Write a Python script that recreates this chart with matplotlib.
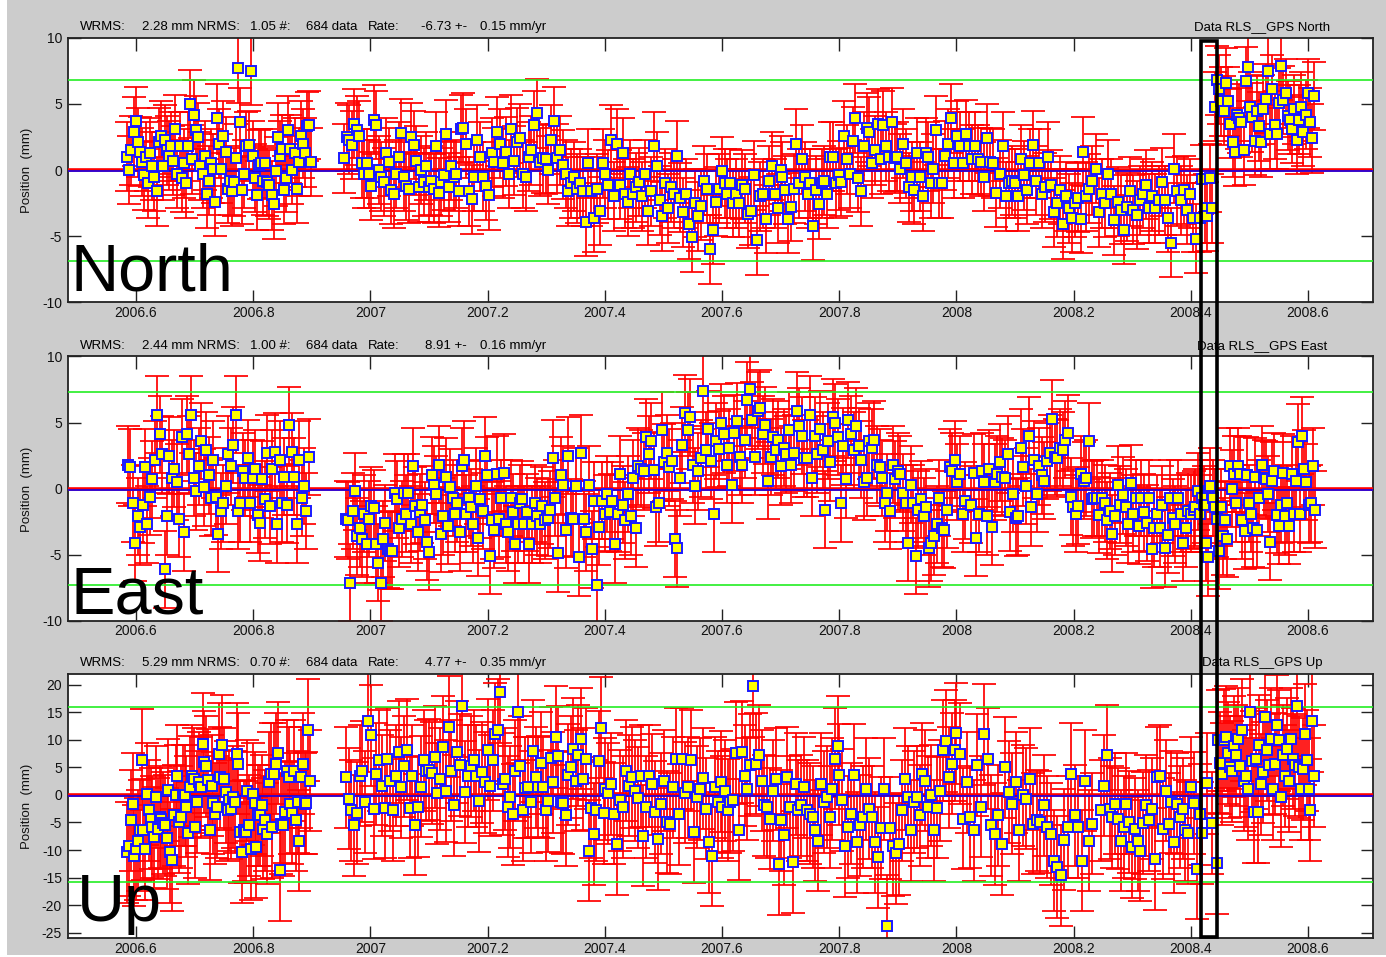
import numpy as np
import matplotlib
matplotlib.use("Agg")
import matplotlib.pyplot as plt
from matplotlib.patches import Rectangle

W, H, DPI = 1386, 957, 100
plt.rcParams['font.family'] = ['Liberation Sans', 'DejaVu Sans']

# ---------------- summary statistics per component ----------------
components = ['North', 'East', 'Up']
wrms = [2.28, 2.44, 5.29]
nrms = [1.05, 1.00, 0.70]
ndata = [684, 684, 684]
rate = [-6.73, 8.91, 4.77]
rate_err = [0.15, 0.16, 0.35]
sigma = [2.6, 2.9, 9.2]          # typical 1-sigma error bar (mm)
ylims = [(-10, 10), (-10, 10), (-26, 22)]
yticks = [[-10, -5, 0, 5, 10], [-10, -5, 0, 5, 10],
          [-25, -20, -15, -10, -5, 0, 5, 10, 15, 20]]
xticks = [2006.6, 2006.8, 2007.0, 2007.2, 2007.4, 2007.6, 2007.8,
          2008.0, 2008.2, 2008.4, 2008.6]
xtick_labels = ['2006.6', '2006.8', '2007', '2007.2', '2007.4', '2007.6',
                '2007.8', '2008', '2008.2', '2008.4', '2008.6']
xlim = (2006.483, 2008.711)

# ---------------- North residuals (mm), daily solutions by time span ----------------
north_spans = [(2006.585, 2006.899), (2006.955, 2007.155), (2007.158, 2007.440),
               (2007.443, 2007.700), (2007.703, 2007.957), (2007.960, 2008.213),
               (2008.216, 2008.415), (2008.420, 2008.437), (2008.441, 2008.611)]
north_a = [1.0, 0.0, 1.5, 2.9, 3.7, 2.1, 1.4, 0.6, -0.4, 1.0, -1.0, 1.3, 0.3, -0.5, -1.6,
           2.1, 2.6, 0.3, 2.3, 1.5, 1.1, 1.8, 0.7, 3.1, -0.3, 1.8, -0.6, 0.5, -1.0, 1.8,
           5.0, 0.8, 4.2, 3.0, 2.5, 0.3, -0.3, 1.1, -1.8, -0.8, 0.5, 0.1, -2.4, 3.9, 2.0,
           0.1, 2.6, 1.4, -1.4, -0.8, -1.6, -0.9, 0.9, 7.7, 3.6, -1.5, -0.3, 1.8, 1.9, 7.5,
           1.1, -0.6, -1.9, 0.4, 0.5, -0.8, 0.5, -0.9, -1.1, -1.9, -2.6, -0.1, 2.5, 1.1,
           1.6, -1.5, -0.6, 3.0, 1.6, 0.0, 1.3, -1.4, 0.6, 2.6, 2.0, 1.3, 3.3, 3.4, 0.6]
north_b1 = [0.9, 2.5, 2.3, 1.9, 3.5, 3.0, 2.6, 0.5, -0.3, 0.5, -0.3, -1.2, 3.8, 3.4, 0.0,
            -0.5, -0.9, 1.3, 0.6, -1.5, -1.8, -0.3, 1.0, 2.8, -0.5, -1.2, -1.4, 2.5, 1.9,
            0.7, -1.3, 0.0, -0.9, 0.3, -1.3, -0.8, -1.4, 1.8, -1.7, -0.9, -0.4, 2.7, -1.3,
            0.3, -0.5, -0.3, -1.6, 3.1]
north_b2 = [3.2, 2.0, -1.6, -2.2, -0.5, 2.3, 1.0, -0.5, -1.2, -1.9, 1.3, 0.6, 2.9, 2.0,
            0.5, 1.4, -0.3, 3.1, 0.7, 2.1, 2.4, -0.3, -0.5, 1.0, 1.5, 3.4, 4.3, 0.6, 0.9,
            0.8, 0.0, 2.3, 3.7, 0.9, 1.5, 0.4, -0.3, -1.6, -1.0, -0.5, -1.4, -1.0, -1.6,
            -3.9, 0.5, -1.6, -3.6, -1.4, -3.1, 0.5, -0.3, -1.1, 2.3, -2.0, 2.0, -1.1, 1.3,
            -1.8, -2.4]
north_b3 = [-0.3, -1.8, -1.3, -0.9, -2.0, -0.3, -3.1, -1.6, 1.8, 0.3, -2.3, -3.5, -1.0,
            -2.9, -1.3, -1.8, 1.1, -2.1, -3.2, -1.8, -4.1, -5.1, -2.5, -3.5, -2.7, -0.8,
            -1.4, -6.0, -4.5, -2.4, -1.4, -0.1, -1.0, -1.8, -1.0, -2.5, -1.8, -2.5, -1.1,
            -1.4, -3.3, -3.1, -0.4, -5.3, -2.0, -1.8, -3.7, -0.8, 0.3, -1.8, -2.9, 0.0]
north_b4 = [-0.5, -1.5, -3.7, -2.8, -1.4, 2.0, -1.0, 0.8, -0.5, -1.8, -1.0, -4.2, -1.5,
            -2.6, -1.0, -0.8, -1.8, 1.0, 1.0, -1.0, -0.4, -0.9, 2.6, 0.8, -0.3, 2.2, 3.9,
            -0.6, -1.6, 1.8, 3.2, 2.9, 0.5, 1.5, 3.5, 0.8, 3.4, 1.8, 1.0, 3.6, 0.9, 1.0,
            0.1, 2.0, 0.5, -1.3, -0.5, -1.5, 1.3, -0.5, -2.0, 1.3, 1.0, -1.0]
north_b5 = [0.1, 3.0, -1.0, -1.0, 1.1, 2.0, 3.9, 0.5, 2.6, 1.8, 0.5, 2.7, 1.8, 0.8, 1.8,
            0.8, 0.6, -0.5, 2.4, 0.6, 0.5, -1.7, -0.3, 1.8, -2.0, -1.0, -0.8, -1.0, -2.0,
            0.8, -0.4, -1.5, 0.5, 1.9, -0.8, 0.5, -1.8, -1.3, 1.0, -1.1, -3.2, -2.5, -1.5,
            -4.1, -2.0, -2.9, -3.6, -2.5, -2.1, -3.7]
north_b6 = [1.4, -2.0, -1.4, -0.8, 0.1, -3.2, -1.8, -2.5, -0.3, -1.8, -3.8, -2.4, -3.0,
            -4.5, -2.8, -1.6, -3.0, -3.4, -2.3, -1.8, -1.1, -2.9, -2.0, -2.9, -2.3, -0.9,
            -2.3, -3.6, -5.5, 0.1, -1.6, -2.3, -1.5, -3.0, -1.8, -3.6, -5.2, -3.6]
north_b7 = [-0.7, -2.9, -3.5, -0.6, -2.9]
north_b8 = [4.8, 6.8, 6.1, 5.2, 4.5, 6.6, 5.2, 3.5, 2.1, 1.4, 4.2, 3.9, 3.6, 1.5, 6.7, 7.8,
            4.8, 4.0, 2.2, 4.5, 3.3, 2.1, 4.6, 5.4, 7.5, 2.7, 6.1, 3.4, 2.7, 5.1, 7.9, 5.3,
            5.8, 4.1, 3.8, 3.1, 4.6, 2.3, 3.8, 4.8, 2.9, 4.2, 5.8, 3.6, 2.4, 5.6]
north_series = [north_a, north_b1, north_b2, north_b3, north_b4, north_b5,
                north_b6, north_b7, north_b8]

# ---------------- East residuals (mm) ----------------
east_spans = [(2006.586, 2006.895), (2006.958, 2007.255), (2007.258, 2008.015),
              (2008.025, 2008.405), (2008.408, 2008.612)]
east_a = [1.8, 1.6, -1.1, -4.1, -2.1, -2.9, -1.2, 1.6, -2.7, -0.6, 0.7, 2.2, 5.6, 4.1, 2.6,
          -6.1, -2.1, 2.5, 0.8, 1.5, 0.5, -2.3, 3.9, -3.3, 4.1, 2.6, 5.6, 0.8, -0.2, 1.7,
          3.6, 0.1, 2.9, 1.0, -0.7, 2.2, -0.6, -3.4, -1.7, -1.1, 0.2, 2.6, 1.7, 3.3, 5.6,
          -1.7, -1.1, 1.3, 0.8, 2.3, -1.1, 0.8, 1.5, -2.0, -2.6, 0.7, -0.8, 2.7, -1.3, 1.5,
          2.8, -2.7, 2.2, -1.1, 0.9, -1.2, 4.8, 2.8, 0.9, -2.7, 2.2, -0.7, 0.2, -1.7, 2.4]
east_b1 = [-2.3, -2.4, -7.1, -1.7, -0.2, -3.6, -3.0, -3.8, -1.9, -4.2, -2.3, -1.3, -1.5,
           -4.2, -5.6, -7.1, -3.8, -2.6, -4.6, -4.7, -4.7, -0.3, -0.8, -3.0, -2.3, -0.3,
           -1.9, -0.3, -2.7, 1.7, -1.3, -3.3, -1.8, -1.2, -2.4, -4.0, -4.8, 1.0, 0.3, -0.4,
           1.8, -3.4, -2.1, 0.9, -2.8, 0.1, -0.7, -1.9, -1.1, -3.3, 1.7, 2.2, -1.9, -0.7,
           -1.4, -2.7, 0.2, -3.7, -0.8, -1.7, 2.5, 1.0, -5.1, -2.4, -3.1, 1.1, -2.3, -0.7,
           1.2, -2.7, -3.3, -0.7, -1.8, -4.2, -2.7, -1.1]
east_b2 = [-0.8, -2.7, -1.8, -4.2, -2.7, -1.1, -2.1, -2.7, -1.3, -2.4, -2.2, -1.6, 2.3,
           -0.7, -4.9, 1.0, 0.3, -3.1, 2.5, -2.2, -2.3, 0.2, -5.2, 2.7, -2.3, -3.3, 0.3,
           -4.6, -0.9, -7.3, -2.9, -0.9, -1.9, -0.4, -1.8, -0.9, -4.2, -1.9, 1.1, -1.2,
           -2.4, -0.4, -2.1, 0.8, -3.0, 1.7, 1.5, 1.3, 3.9, 2.6, 3.6, 1.4, -1.4, -1.1, 4.4,
           2.0, 2.7, 1.6, 2.1, -3.8, -4.5, 0.8, 3.3, 5.7, 4.4, 5.4, 1.8, 0.2, 1.3, 2.3, 7.4,
           2.9, 4.5, 2.1, -1.9, 3.6, 3.0, 5.0, 4.1, 1.8, 3.1, 0.3, 4.2, 5.1, 2.4, 1.8, 3.7,
           6.7, 7.5, 5.2, 2.4, 5.9, 6.1, 4.1, 4.8, 0.6, 2.4, 3.9, 2.9, 3.7, 1.7, 3.1, 2.6,
           4.4, 1.8, 2.7, 5.9, 4.7, 4.0, 2.3, 2.3, 5.6, 0.8, 4.0, 2.6, 4.5, 2.9, -1.6, 3.6,
           2.0, 5.4, 5.0, 3.9, -1.1, 3.2, 0.7, 5.2, 4.1, 2.9, 4.7, 3.2, 2.2, 0.5, 0.8, 3.6,
           3.1, 3.7, 1.8, 1.6, 0.8, -1.1, -0.3, -1.7, 1.8, 0.7, 1.3, 1.1, -0.3, -1.1, -4.1,
           0.3, -1.1, -5.1, -1.6, -0.8, -2.1, -1.4, -4.5, -4.1, -3.6, -2.7, -0.7, -3.0, -3.1,
           -1.6, 1.6, 1.3, 2.2, 0.5, 1.1, -1.9, -0.9]
east_b3 = [-1.2, 1.2, -3.7, -1.9, 1.3, 0.5, -2.1, 1.5, -2.9, 0.5, 1.1, 2.0, 0.9, 0.8, 2.6,
           -1.8, -0.4, -2.2, -2.1, 3.1, 1.6, 0.2, 4.0, -1.4, 2.2, -0.4, 1.7, 1.0, 0.6, 2.1,
           2.7, 5.3, 2.4, 2.3, 3.1, 2.9, 3.7, 4.2, -0.6, -1.4, -1.9, -1.3, 1.1, 0.6, 0.8,
           3.6, -0.8, -0.7, -0.7, -2.0, -0.7, -1.1, -2.4, -1.7, -3.4, -2.1, 0.3, -1.2, -0.5,
           -1.4, -2.7, 0.4, -1.9, -0.7, -2.8, -0.7, -1.8, -2.6, -0.7, -4.6, -3.0, -1.9, -3.0,
           -1.2, -4.5, -3.5, -0.7, -2.2, -2.7, -0.7, -1.9, -4.1, -3.0, -1.7, -1.9, -1.6]
east_b4 = [-1.4, -0.2, -1.9, -0.7, -1.2, -4.1, -5.2, 0.2, -0.7, -1.4, -2.3, -4.7, -1.4,
           -3.6, -2.4, -3.8, 1.7, 0.0, 1.1, -1.1, 1.7, 1.1, -2.4, -3.2, 1.0, -1.1, -1.9,
           -3.0, 0.9, -3.1, -0.7, 1.8, 0.8, 0.7, -0.4, -4.0, 0.6, 1.3, -2.0, -2.8, -1.2,
           1.2, -2.1, -1.1, -2.8, 1.1, -1.9, 0.6, 3.5, -1.9, 4.0, 1.5, 0.5, -1.2, -1.1, 1.7,
           -1.6]
east_series = [east_a, east_b1, east_b2, east_b3, east_b4]

# ---------------- Up residuals (mm) ----------------
up_spans = [(2006.585, 2006.897), (2006.958, 2007.195), (2007.200, 2007.398),
            (2007.400, 2007.598), (2007.600, 2007.798), (2007.800, 2007.998),
            (2008.000, 2008.232), (2008.247, 2008.415), (2008.420, 2008.444),
            (2008.447, 2008.611)]
up_a = [-10.4, -9.2, -4.6, -1.6, -11.0, -9.8, -8.3, -6.4, 6.4, -6.3, -9.9, 0.2, -2.8, -4.3,
        -5.8, -7.7, -0.4, -6.1, -4.0, -4.3, -5.1, -5.5, -7.9, 0.9, -10.4, -11.8, -3.7, -0.1,
        3.5, -4.9, -4.0, -0.1, -0.1, -2.1, -6.9, 1.5, 3.5, 2.9, -5.8, -1.3, 2.3, 1.4, 9.3,
        6.0, 5.2, 2.8, -6.3, 1.7, -1.5, -3.4, -2.2, 7.5, 3.2, 9.0, 2.9, 0.5, -2.8, -1.0,
        -2.5, -0.4, -1.3, 7.5, 5.7, -6.7, -10.4, -6.4, -6.7, 0.8, -5.5, -9.8, 0.2, -1.5,
        -9.5, -3.7, -3.7, -1.9, -6.1, -4.6, -7.0, 2.3, 3.8, -5.8, 3.8, 5.7, 7.6, -13.7,
        -5.2, -5.5, -3.1, 4.4, 3.2, -1.6, -3.3, 4.4, -4.6, -1.3, -8.3, 3.2, 5.7, -1.6,
        -1.5, 11.8, 2.6]
up_b1 = [3.2, -0.7, -2.8, -5.5, -3.3, 3.5, 4.3, -1.3, 13.4, 10.8, -2.5, 3.8, 6.3, 1.7,
         -2.3, 6.6, 2.6, -2.7, 3.5, 7.8, 1.4, 5.2, 8.2, -2.3, 3.5, -5.4, -2.1, 1.5, 6.3,
         4.4, 4.6, 4.0, 6.9, 0.3, 2.9, 8.7, 0.7, 12.4, 4.4, -1.9, 7.8, 5.4, 16.1, 0.5, 3.4,
         5.2, 6.3, 3.4, -1.1, 4.1, 2.3]
up_b2 = [8.2, 1.7, 6.3, 11.1, 11.8, 18.7, 2.0, 2.9, -2.1, -0.4, -3.5, 4.4, 15.0, 5.2,
         -2.8, 1.3, 1.4, -1.3, 8.0, 3.2, 1.5, 5.8, 1.4, -2.8, -1.1, 6.7, 2.3, 10.5, 7.0,
         -1.3, -1.5, -3.7, 3.7, 5.1, 8.4, 2.6, 7.2, 10.2, 2.9, 6.6, -10.1, -2.3, -7.1,
         -2.8, 6.1, 12.2, -3.3]
up_b3 = [1.1, 0.3, 2.0, -3.4, -8.9, -1.0, -2.2, 4.4, 1.7, 3.2, 0.8, -0.5, 3.4, -7.4,
         -2.2, 3.4, 1.9, -3.1, -8.0, -1.6, 2.6, -4.9, -5.2, 1.4, 6.6, -3.5, 6.6, 0.4, 1.4,
         6.3, -6.7, -0.4, 1.1, 3.0, -2.5, -8.6, -11.0, 1.4, -1.2, 2.4]
up_b4 = [-2.2, 0.8, -2.7, -1.3, -0.9, 7.6, -6.3, 7.8, 3.5, 1.1, 5.4, 19.7, 5.7, 7.2, 2.6,
         -1.9, -2.2, -4.3, 0.8, 2.9, -12.6, -4.6, -7.2, 3.2, -2.2, -12.2, 2.0, -2.8, -1.9,
         1.4, -2.8, -3.4, -4.0, -6.4, -8.3, 2.0, -1.3, -0.4, -4.0, 1.1, 6.6, 8.8]
up_b5 = [3.7, -0.9, -9.3, -5.8, -3.4, 3.7, -8.6, -5.5, -4.0, 1.1, -2.5, -4.0, -8.6, -11.3,
         -6.0, 1.1, -23.7, -6.0, -9.2, -10.6, -8.9, -2.8, 2.9, -0.4, -6.4, -1.3, -0.4, -3.7,
         3.8, 2.6, -2.2, -0.1, -6.4, -2.3, 0.8, 8.1, 9.8, 3.2, 5.7, 8.1]
up_b6 = [11.2, 7.5, -4.3, 2.3, -4.0, -6.4, 5.4, -2.1, 11.0, 6.6, -5.5, -7.1, -3.7, -8.9,
         5.0, 0.5, -1.6, 2.3, -6.4, -0.1, -0.7, 2.9, -5.2, -4.6, -4.9, -1.9, -5.8, -7.1,
         -11.9, -13.1, -14.6, -8.1, -5.8, 3.8, -3.7, -5.8, -11.9, 2.6, -8.3, -5.2]
up_b7 = [-2.8, 1.7, 7.2, -2.5, -4.0, -1.6, -4.3, -8.3, -5.8, -1.6, -4.9, -9.5, -6.1, -8.3,
         -10.1, -5.1, -1.9, -4.6, -2.5, -11.6, 3.2, 3.5, -6.1, 0.8, -5.2, -1.3, -8.6, -1.6,
         -4.0, -2.5, -6.4, -6.9, 1.4, -1.5, -13.4, -3.5]
up_b8 = [-6.9, 2.1, -5.1, -12.4]
up_b9 = [9.9, 5.8, 3.8, 10.0, 10.5, 7.6, 5.1, 4.3, 8.8, 7.2, 10.2, 5.2, 11.8, 2.6, 3.4, 1.1,
         15.0, 6.1, -3.1, 6.6, -3.1, 9.0, 1.9, 4.1, 14.2, 8.1, 5.5, 10.2, 1.1, 5.7, 12.6,
         9.9, -0.3, 7.2, 3.4, 8.4, 2.5, 10.2, 6.6, 5.4, 16.2, 5.1, 1.1, 4.7, 11.0, 6.3, 1.1,
         -2.7, 13.4, 3.4]
up_series = [up_a, up_b1, up_b2, up_b3, up_b4, up_b5, up_b6, up_b7, up_b8, up_b9]

all_spans = [north_spans, east_spans, up_spans]
all_series = [north_series, east_series, up_series]

# ---------------- figure ----------------
fig = plt.figure(figsize=(W / DPI, H / DPI), dpi=DPI, facecolor='white')
fig.patches.append(Rectangle((7 / W, 2 / H), 1 - 7 / W, 1 - 2 / H, transform=fig.transFigure,
                             facecolor='#cccccc', edgecolor='none', zorder=-10))

def fx(x):
    return x / W

def fy(y):
    return 1 - y / H

ax_left, ax_right = 67.5, 1373.0
panel_tops = [37.8, 356.4, 673.7]
panel_h = 264.5
big_label_pos = [(70, 291), (71, 613), (77, 921)]

for i, comp in enumerate(components):
    top = panel_tops[i]
    ax = fig.add_axes([fx(ax_left), fy(top + panel_h), (ax_right - ax_left) / W, panel_h / H])
    ax.set_facecolor('white')

    for (t0, t1), vals in zip(all_spans[i], all_series[i]):
        t = np.linspace(t0, t1, len(vals))
        v = np.asarray(vals)
        ax.errorbar(t, v, yerr=sigma[i], fmt='none', ecolor='#ff0000',
                    elinewidth=1.25, capsize=8.5, capthick=1.25, zorder=2)
    ax.axhline(3 * wrms[i], color='#22ee22', lw=1.2, zorder=3)
    ax.axhline(-3 * wrms[i], color='#22ee22', lw=1.2, zorder=3)
    ax.axhline(0.0, color='#ff0000', lw=2.6, zorder=3)
    ax.axhline(-0.005 * (ylims[i][1] - ylims[i][0]), color='#0000ff', lw=1.1, zorder=3)
    for (t0, t1), vals in zip(all_spans[i], all_series[i]):
        t = np.linspace(t0, t1, len(vals))
        ax.plot(t, vals, 's', ms=7.6, mfc='#ffff00', mec='#1a1aff', mew=1.4,
                linestyle='none', zorder=4)

    ax.set_xlim(*xlim)
    ax.set_ylim(*ylims[i])
    ax.set_xticks(xticks)
    ax.set_xticklabels(xtick_labels)
    ax.set_yticks(yticks[i])
    ax.set_yticklabels([str(v) for v in yticks[i]])
    ax.tick_params(axis='both', direction='in', top=True, right=True, length=9,
                   width=1.0, color='#222222', labelsize=10, labelcolor='#111111')
    ax.tick_params(axis='x', pad=2.5)
    ax.tick_params(axis='y', pad=4)
    for s in ax.spines.values():
        s.set_linewidth(1.3)
        s.set_color('#222222')

    # y label
    fig.text(fx(27), fy(top + 133), 'Position  (mm)', rotation=90, ha='center',
             va='center', fontsize=9.5, color='#111111')
    # header line
    ty = fy(top - 10.8)
    fs = 9.5
    fig.text(fx(80), ty, 'WRMS:', ha='left', va='center', fontsize=fs)
    fig.text(fx(142), ty, f'{wrms[i]:.2f} mm NRMS:', ha='left', va='center', fontsize=fs)
    fig.text(fx(250), ty, f'{nrms[i]:.2f} #:', ha='left', va='center', fontsize=fs)
    fig.text(fx(306), ty, f'{ndata[i]} data', ha='left', va='center', fontsize=fs)
    fig.text(fx(368), ty, 'Rate:', ha='left', va='center', fontsize=fs)
    fig.text(fx(467), ty, f'{rate[i]:.2f} +-', ha='right', va='center', fontsize=fs)
    fig.text(fx(480), ty, f'{rate_err[i]:.2f} mm/yr', ha='left', va='center', fontsize=fs)
    fig.text(fx(1262), ty, f'Data RLS__GPS {comp}', ha='center', va='center', fontsize=fs)
    # big component label
    bx, by = big_label_pos[i]
    fig.text(fx(bx), fy(by), comp, ha='left', va='baseline', fontsize=48, color='black',
             zorder=10)

# black highlight box across all three panels
fig.patches.append(Rectangle((fx(1201.3), fy(936.5)), (1216.7 - 1201.3) / W,
                             (936.5 - 41) / H, transform=fig.transFigure, fill=False,
                             edgecolor='black', linewidth=2.6, zorder=20))

fig.savefig('out.png', dpi=DPI, facecolor=fig.get_facecolor())
